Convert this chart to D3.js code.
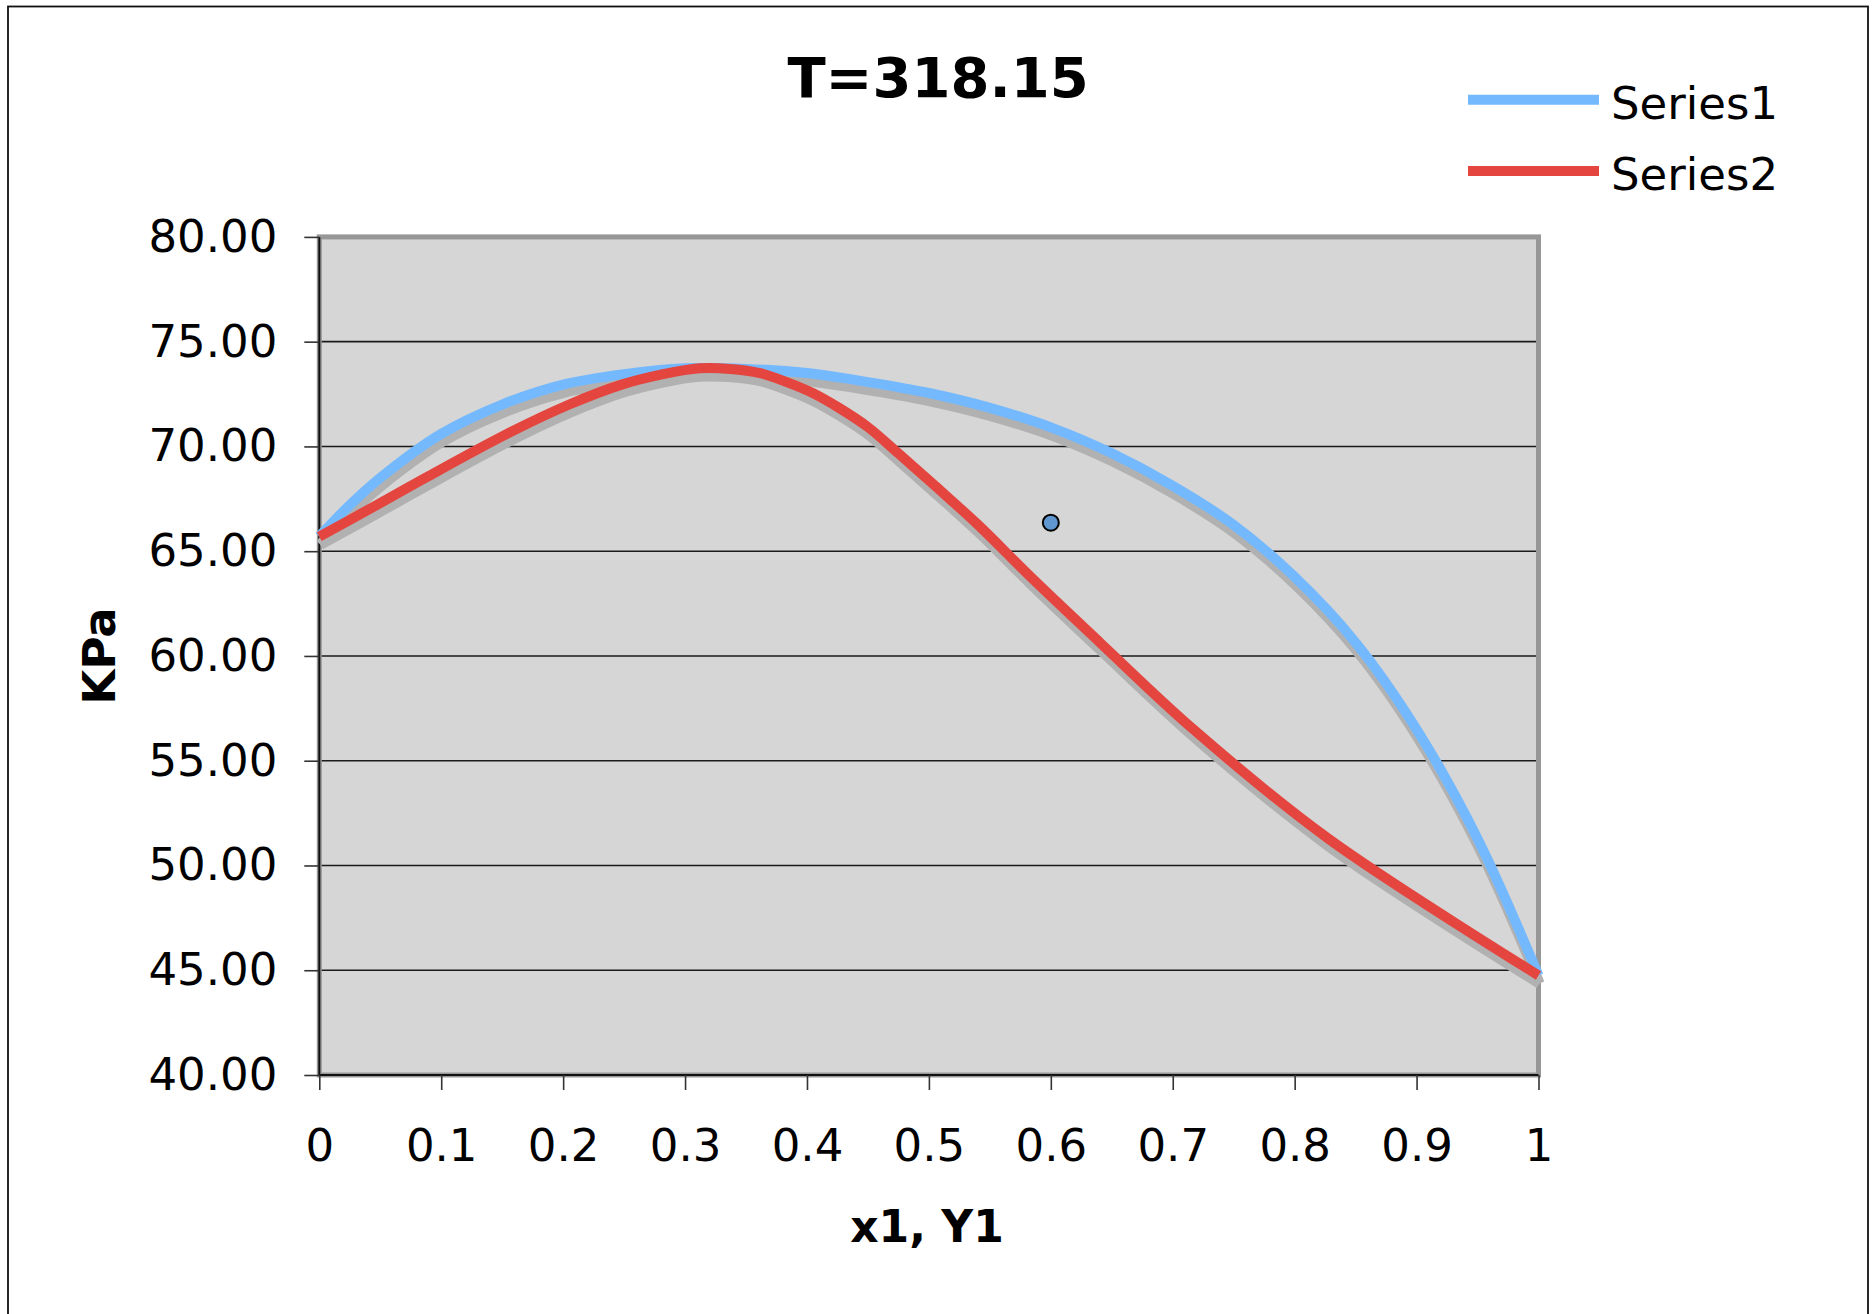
<!DOCTYPE html>
<html>
<head>
<meta charset="utf-8">
<script src="https://cdn.jsdelivr.net/npm/d3@7"></script>
<style>
  html, body { margin: 0; padding: 0; background: #fff; }
  svg { display: block; font-family: "DejaVu Sans", Verdana, sans-serif; }
</style>
</head>
<body>
<svg id="chart" width="1876" height="1314"></svg>
<script>
// Vapour–liquid equilibrium at T = 318.15 K
const chartTitle = "T=318.15";
const xTitle = "x1, Y1";
const yTitle = "KPa";
const seriesNames = ["Series1", "Series2"];

// Series1: bubble-point pressure against liquid mole fraction x1
const series1X = [0, 0.025, 0.05, 0.1, 0.15, 0.2, 0.25, 0.3, 0.35, 0.4, 0.45, 0.5,
                  0.55, 0.6, 0.65, 0.7, 0.75, 0.8, 0.85, 0.9, 0.95, 1];
const series1P = [65.7, 67.2, 68.5, 70.6, 72.0, 72.95, 73.45, 73.73, 73.7, 73.5, 73.07, 72.55,
                  71.84, 70.91, 69.67, 68.12, 66.25, 63.77, 60.64, 56.5, 51.28, 44.75];

// Series2: dew-point pressure against vapour mole fraction Y1
const series2X = [0, 0.047, 0.087, 0.154, 0.205, 0.248, 0.282, 0.312, 0.337, 0.3615, 0.3834, 0.4047,
                  0.4263, 0.4503, 0.4749, 0.505, 0.5405, 0.5835, 0.6403, 0.7169, 0.8276, 1];
const series2P = [65.7, 67.2, 68.5, 70.6, 72.0, 72.95, 73.45, 73.73, 73.7, 73.5, 73.07, 72.55,
                  71.84, 70.91, 69.67, 68.12, 66.25, 63.77, 60.64, 56.5, 51.28, 44.75];

// Single measured point
const pointX = [0.6];
const pointP = [66.36];

// Axis ticks
const xTickValues = [0, 0.1, 0.2, 0.3, 0.4, 0.5, 0.6, 0.7, 0.8, 0.9, 1];
const xTickLabels = ["0", "0.1", "0.2", "0.3", "0.4", "0.5", "0.6", "0.7", "0.8", "0.9", "1"];
const yTickValues = [40, 45, 50, 55, 60, 65, 70, 75, 80];
const yTickLabels = ["40.00", "45.00", "50.00", "55.00", "60.00", "65.00", "70.00", "75.00", "80.00"];

const colors = ["#74B9FE", "#E4463F"];

const svg = d3.select("#chart");
const plot = { left: 319.3, right: 1538.5, top: 236.9, bottom: 1075 };

const x = d3.scaleLinear().domain([0, 1]).range([plot.left, plot.right]);
const y = d3.scaleLinear().domain([40, 80]).range([plot.bottom, plot.top]);

// outer frame
svg.append("rect")
  .attr("x", 8).attr("y", 6.5)
  .attr("width", 1860).attr("height", 1340)
  .attr("fill", "#fff").attr("stroke", "#111").attr("stroke-width", 1.8);

// plot background
svg.append("rect")
  .attr("x", plot.left).attr("y", plot.top)
  .attr("width", plot.right - plot.left).attr("height", plot.bottom - plot.top)
  .attr("fill", "#D6D6D6");

// horizontal gridlines
svg.append("g")
  .selectAll("line")
  .data(yTickValues.filter(v => v > 40 && v < 80))
  .join("line")
  .attr("x1", plot.left).attr("x2", plot.right)
  .attr("y1", d => y(d)).attr("y2", d => y(d))
  .attr("stroke", "#1a1a1a").attr("stroke-width", 1.6);

// plot border
svg.append("rect")
  .attr("x", plot.left).attr("y", plot.top)
  .attr("width", plot.right - plot.left).attr("height", plot.bottom - plot.top)
  .attr("fill", "none").attr("stroke", "#979797").attr("stroke-width", 5);

// y axis
const yAxis = d3.axisLeft(y)
  .tickValues(yTickValues)
  .tickFormat((d, i) => yTickLabels[i])
  .tickSize(15)
  .tickPadding(27);
const gy = svg.append("g").attr("transform", `translate(${plot.left},0)`).call(yAxis);
gy.select(".domain").attr("stroke", "#111").attr("stroke-width", 2).attr("d", `M0,${plot.top}V${plot.bottom}`);
gy.selectAll(".tick line").attr("stroke", "#333").attr("stroke-width", 1.6);
gy.selectAll(".tick text").attr("font-size", 45).attr("fill", "#000")
  .attr("font-family", "'DejaVu Sans', Verdana, sans-serif");

// x axis
const xAxis = d3.axisBottom(x)
  .tickValues(xTickValues)
  .tickFormat((d, i) => xTickLabels[i])
  .tickSize(15)
  .tickPadding(39);
const gx = svg.append("g").attr("transform", `translate(0,${plot.bottom})`).call(xAxis);
gx.select(".domain").attr("stroke", "#111").attr("stroke-width", 2).attr("d", `M${plot.left},0H${plot.right}`);
gx.selectAll(".tick line").attr("stroke", "#333").attr("stroke-width", 1.6);
gx.selectAll(".tick text").attr("font-size", 45).attr("fill", "#000")
  .attr("font-family", "'DejaVu Sans', Verdana, sans-serif");

// smoothed series lines with drop shadows
const line = d3.line()
  .x(d => x(d[0]))
  .y(d => y(d[1]))
  .curve(d3.curveCatmullRom.alpha(0.5));
const seriesData = [
  d3.zip(series1X, series1P),
  d3.zip(series2X, series2P)
];

seriesData.forEach((data, i) => {
  svg.append("path")
    .datum(data)
    .attr("d", line)
    .attr("transform", "translate(1,8)")
    .attr("fill", "none")
    .attr("stroke", "#B1B1B1")
    .attr("stroke-width", 10.5)
    .attr("stroke-linejoin", "round");
  svg.append("path")
    .datum(data)
    .attr("d", line)
    .attr("fill", "none")
    .attr("stroke", colors[i])
    .attr("stroke-width", 10)
    .attr("stroke-linejoin", "round");
});

// measured point
svg.append("g")
  .selectAll("circle")
  .data(d3.zip(pointX, pointP))
  .join("circle")
  .attr("cx", d => x(d[0]))
  .attr("cy", d => y(d[1]))
  .attr("r", 8)
  .attr("fill", "#5F97D0")
  .attr("stroke", "#000")
  .attr("stroke-width", 2);

// title
svg.append("text")
  .attr("x", 938).attr("y", 97)
  .attr("text-anchor", "middle")
  .attr("font-size", 56).attr("font-weight", "bold")
  .text(chartTitle);

// axis titles
svg.append("text")
  .attr("x", 927).attr("y", 1242)
  .attr("text-anchor", "middle")
  .attr("font-size", 44).attr("font-weight", "bold")
  .text(xTitle);

svg.append("text")
  .attr("transform", `translate(115,${(plot.top + plot.bottom) / 2}) rotate(-90)`)
  .attr("text-anchor", "middle")
  .attr("font-size", 45).attr("font-weight", "bold")
  .text(yTitle);

// legend
const legendY = [99.7, 171];
const legend = svg.append("g");
seriesNames.forEach((name, i) => {
  legend.append("line")
    .attr("x1", 1468).attr("x2", 1599)
    .attr("y1", legendY[i]).attr("y2", legendY[i])
    .attr("stroke", colors[i]).attr("stroke-width", 10);
  legend.append("text")
    .attr("x", 1611).attr("y", legendY[i] + 19)
    .attr("font-size", 45)
    .text(name);
});
</script>
</body>
</html>
